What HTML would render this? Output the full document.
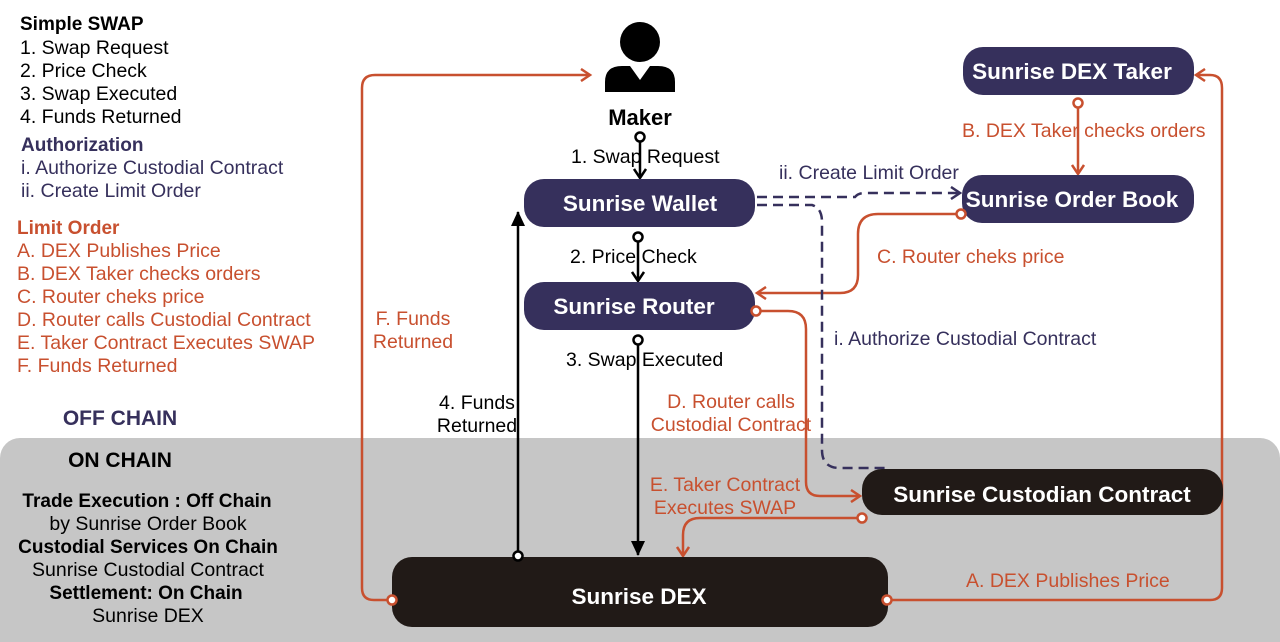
<!DOCTYPE html>
<html><head><style>
html,body{margin:0;padding:0;background:#fff;}
svg{display:block;font-family:"Liberation Sans",sans-serif;}
</style></head><body>
<svg width="1280" height="642" viewBox="0 0 1280 642" xmlns="http://www.w3.org/2000/svg">
<defs>
<marker id="oo" markerWidth="14" markerHeight="14" refX="11" refY="7" orient="auto" markerUnits="userSpaceOnUse"><path d="M2,1 L11,7 L2,13" fill="none" stroke="#c8502f" stroke-width="2.5"/></marker>
<marker id="ob" markerWidth="14" markerHeight="14" refX="11" refY="7" orient="auto" markerUnits="userSpaceOnUse"><path d="M2,1 L11,7 L2,13" fill="none" stroke="#000" stroke-width="2.5"/></marker>
<marker id="op" markerWidth="14" markerHeight="14" refX="11" refY="7" orient="auto" markerUnits="userSpaceOnUse"><path d="M2,1 L11,7 L2,13" fill="none" stroke="#36305c" stroke-width="2.5"/></marker>
<marker id="fb" markerWidth="16" markerHeight="14" refX="14" refY="7" orient="auto" markerUnits="userSpaceOnUse"><path d="M0,0 L15,7 L0,14 Z" fill="#000"/></marker>
</defs>
<rect x="0" y="438" width="1280" height="230" rx="20" fill="#c6c6c6"/>

<!-- legend -->
<g font-size="19.5">
<text x="20" y="30" font-weight="bold" font-size="19">Simple SWAP</text>
<text x="20" y="54">1. Swap Request</text>
<text x="20" y="77">2. Price Check</text>
<text x="20" y="100">3. Swap Executed</text>
<text x="20" y="123">4. Funds Returned</text>
<text x="21" y="151" font-weight="bold" fill="#36305c" font-size="19">Authorization</text>
<text x="21" y="174" fill="#36305c">i. Authorize Custodial Contract</text>
<text x="21" y="197" fill="#36305c">ii. Create Limit Order</text>
<g fill="#c8502f">
<text x="17" y="234" font-weight="bold" font-size="19">Limit Order</text>
<text x="17" y="257">A. DEX Publishes Price</text>
<text x="17" y="280">B. DEX Taker checks orders</text>
<text x="17" y="303">C. Router cheks price</text>
<text x="17" y="326">D. Router calls Custodial Contract</text>
<text x="17" y="349">E. Taker Contract Executes SWAP</text>
<text x="17" y="372">F. Funds Returned</text>
</g>
<text x="120" y="425" font-size="21" font-weight="bold" fill="#36305c" text-anchor="middle">OFF CHAIN</text>
<text x="120" y="467" font-size="21" font-weight="bold" text-anchor="middle">ON CHAIN</text>
<g text-anchor="middle">
<text x="147" y="507" font-weight="bold" font-size="19">Trade Execution : Off Chain</text>
<text x="148" y="530">by Sunrise Order Book</text>
<text x="148" y="553" font-weight="bold" font-size="19">Custodial Services On Chain</text>
<text x="148" y="576">Sunrise Custodial Contract</text>
<text x="146" y="599" font-weight="bold" font-size="19">Settlement: On Chain</text>
<text x="148" y="622">Sunrise DEX</text>
</g>
</g>

<!-- maker icon -->
<circle cx="640" cy="42" r="20" fill="#000"/>
<path d="M605,92 L605,82 Q605,66 622,66 L658,66 Q675,66 675,82 L675,92 Z" fill="#000"/>
<path d="M630,66 L640,80 L650,66 Z" fill="#fff"/>
<text x="640" y="125" font-size="22" font-weight="bold" text-anchor="middle">Maker</text>

<!-- connectors -->
<g fill="none" stroke-width="2.5">
<path d="M640,141 L640,178" stroke="#000" marker-end="url(#ob)"/>
<path d="M638,241 L638,281" stroke="#000" marker-end="url(#ob)"/>
<path d="M638,344 L638,555" stroke="#000" marker-end="url(#fb)"/>
<path d="M518,552 L518,212" stroke="#000" marker-end="url(#fb)"/>
<path d="M388,600 L374,600 Q362,600 362,588 L362,88 Q362,75 375,75 L590,75" stroke="#c8502f" marker-end="url(#oo)"/>
<path d="M892,600 L1210,600 Q1222,600 1222,588 L1222,88 Q1222,75 1210,75 L1196,75" stroke="#c8502f" marker-end="url(#oo)"/>
<path d="M1078,107 L1078,174" stroke="#c8502f" marker-end="url(#oo)"/>
<path d="M957,214 L878,214 Q858,214 858,234 L858,275 Q858,293 840,293 L757,293" stroke="#c8502f" marker-end="url(#oo)"/>
<path d="M760,311 L788,311 Q806,311 806,329 L806,482 Q806,496 820,496 L860,496" stroke="#c8502f" marker-end="url(#oo)"/>
<path d="M858,518 L700,518 Q683,518 683,535 L683,556" stroke="#c8502f" marker-end="url(#oo)"/>
<path d="M757,197 L855,197 Q858,193 865,193 L960,193" stroke="#36305c" stroke-dasharray="10,6" marker-end="url(#op)"/>
<path d="M757,205 L812,205 Q822,208 822,222 L822,450 Q822,468 840,468 L885,468" stroke="#36305c" stroke-dasharray="10,6"/>
</g>

<!-- nodes -->
<g font-weight="bold" font-size="22.5" text-anchor="middle" fill="#fff">
<rect x="963" y="47" width="231" height="48" rx="20" fill="#36305c"/>
<text x="1072" y="79">Sunrise DEX Taker</text>
<rect x="962" y="175" width="232" height="48" rx="20" fill="#36305c"/>
<text x="1072" y="207">Sunrise Order Book</text>
<rect x="524" y="179" width="231" height="48" rx="20" fill="#36305c"/>
<text x="640" y="211">Sunrise Wallet</text>
<rect x="524" y="282" width="231" height="48" rx="20" fill="#36305c"/>
<text x="634" y="314">Sunrise Router</text>
<rect x="862" y="469" width="361" height="46" rx="20" fill="#211a17"/>
<text x="1042" y="502">Sunrise Custodian Contract</text>
<rect x="392" y="557" width="496" height="70" rx="20" fill="#211a17"/>
<text x="639" y="604">Sunrise DEX</text>
</g>

<g stroke-width="2.5" fill="#fff">
<circle cx="640" cy="137" r="4.5" stroke="#000"/>
<circle cx="638" cy="237" r="4.5" stroke="#000"/>
<circle cx="638" cy="340" r="4.5" stroke="#000"/>
<circle cx="518" cy="556" r="4.5" stroke="#000"/>
<circle cx="392" cy="600" r="4.5" stroke="#c8502f"/>
<circle cx="887" cy="600" r="4.5" stroke="#c8502f"/>
<circle cx="1078" cy="103" r="4.5" stroke="#c8502f"/>
<circle cx="961" cy="214" r="4.5" stroke="#c8502f"/>
<circle cx="756" cy="311" r="4.5" stroke="#c8502f"/>
<circle cx="862" cy="518" r="4.5" stroke="#c8502f"/>
</g>

<!-- connector labels -->
<g font-size="19.5">
<text x="571" y="163">1. Swap Request</text>
<text x="570" y="263">2. Price Check</text>
<text x="566" y="366">3. Swap Executed</text>
<text x="477" y="409" text-anchor="middle">4. Funds</text>
<text x="477" y="432" text-anchor="middle">Returned</text>
<g fill="#36305c">
<text x="779" y="179">ii. Create Limit Order</text>
<text x="834" y="345">i. Authorize Custodial Contract</text>
</g>
<g fill="#c8502f">
<text x="962" y="137">B. DEX Taker checks orders</text>
<text x="877" y="263">C. Router cheks price</text>
<text x="413" y="325" text-anchor="middle">F. Funds</text>
<text x="413" y="348" text-anchor="middle">Returned</text>
<text x="731" y="408" text-anchor="middle">D. Router calls</text>
<text x="731" y="431" text-anchor="middle">Custodial Contract</text>
<text x="725" y="491" text-anchor="middle">E. Taker Contract</text>
<text x="725" y="514" text-anchor="middle">Executes SWAP</text>
<text x="966" y="587">A. DEX Publishes Price</text>
</g>
</g>
</svg>
</body></html>
